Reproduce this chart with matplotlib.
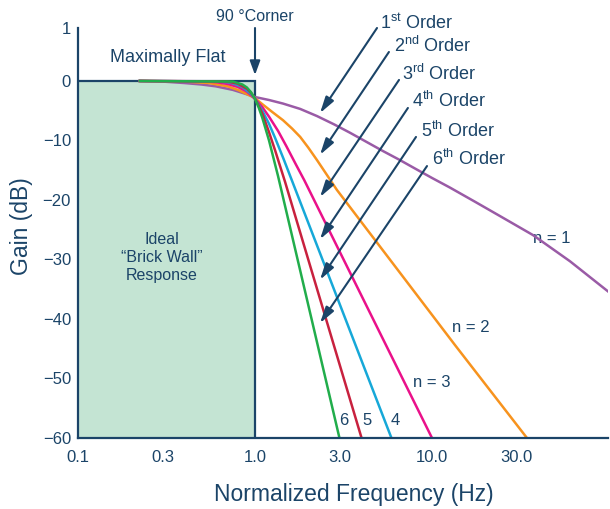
import matplotlib
matplotlib.use("Agg")
import matplotlib.pyplot as plt

plt.rcParams['font.family'] = ['Liberation Sans', 'DejaVu Sans']
plt.rcParams['mathtext.fontset'] = 'custom'
plt.rcParams['mathtext.rm'] = 'Liberation Sans'
plt.rcParams['mathtext.it'] = 'Liberation Sans:italic'
plt.rcParams['mathtext.bf'] = 'Liberation Sans:bold'

# --- data -------------------------------------------------------------
# ideal "brick wall" low-pass response
brick_f = [0.1, 1.0]
brick_db = [0.0, 0.0]

# Butterworth-style low-pass responses, n = 1 ... 6
f_n1 = [0.22, 0.3, 0.4, 0.5, 0.6, 0.75, 0.87, 1.0, 1.2, 1.44, 1.8, 2.24, 2.8,
        3.44, 4.3, 5.3, 6.5, 8.0, 10.0, 12.6, 17.5, 24.2, 37.2, 60.2, 101]
db_n1 = [0, -0.1, -0.35, -0.6, -0.9, -1.5, -2.1, -2.7, -3.2, -3.8, -4.7, -5.9,
         -7.3, -8.7, -10.3, -11.8, -13.2, -14.7, -16.3, -17.9, -20.3, -22.7,
         -25.9, -30.3, -35.6]

f_n2 = [0.22, 0.4, 0.55, 0.7, 0.8, 0.9, 1.0, 1.1, 1.25, 1.44, 1.62, 1.8, 2.0,
        2.24, 2.55, 2.9, 13.5, 34.4]
db_n2 = [0, -0.1, -0.35, -0.9, -1.5, -2.2, -2.9, -3.9, -5.2, -6.6, -8.0, -9.4,
         -11.2, -13.3, -15.8, -18.3, -44.4, -60]

f_n3 = [0.22, 0.5, 0.6, 0.7, 0.8, 0.9, 1.0, 1.1, 1.2, 1.35, 1.5, 1.7, 1.9, 10.0]
db_n3 = [0, -0.05, -0.2, -0.5, -1.0, -1.8, -3.0, -4.4, -6.0, -8.4, -10.9, -14.0,
         -16.7, -60]

f_n4 = [0.22, 0.6, 0.7, 0.75, 0.85, 0.95, 1.0, 1.1, 1.2, 1.3, 1.45, 1.62, 5.9]
db_n4 = [0, -0.1, -0.2, -0.4, -1.0, -2.2, -3.0, -5.0, -7.2, -9.6, -13.1, -16.8,
         -60]

f_n5 = [0.22, 0.7, 0.8, 0.9, 0.95, 1.0, 1.05, 1.1, 1.2, 1.3, 1.48, 4.0]
db_n5 = [0, -0.1, -0.45, -1.3, -2.0, -3.0, -4.2, -5.5, -8.6, -11.7, -17.0, -60]

f_n6 = [0.22, 0.75, 0.85, 0.9, 0.95, 1.0, 1.05, 1.1, 1.2, 1.35, 3.0]
db_n6 = [0, -0.1, -0.6, -1.1, -1.9, -3.0, -4.5, -6.2, -10.0, -16.0, -60]

x_ticks = [0.1, 0.3, 1.0, 3.0, 10.0, 30.0]
x_tick_labels = ['0.1', '0.3', '1.0', '3.0', '10.0', '30.0']
y_ticks = [-60, -50, -40, -30, -20, -10, 0]
y_tick_labels = ['\u221260', '\u221250', '\u221240', '\u221230', '\u221220',
                 '\u221210', '0']
order_labels = ['1$^{\\rm st}$ Order', '2$^{\\rm nd}$ Order', '3$^{\\rm rd}$ Order',
                '4$^{\\rm th}$ Order', '5$^{\\rm th}$ Order', '6$^{\\rm th}$ Order']

# --- styling ----------------------------------------------------------
NAVY = '#1b4468'
FILL = '#c4e4d3'
colors = {1: '#9a5ba6', 2: '#f7931e', 3: '#ea118a', 4: '#16a8d8',
          5: '#c8213e', 6: '#21ad4b'}

fig = plt.figure(figsize=(6.1, 5.09), dpi=100)
ax = fig.add_axes([78 / 610, 71 / 509, 530 / 610, 410 / 509])
ax.set_xscale('log')
Y_TOP = 8.9
ax.set_xlim(0.1, 98.7)
ax.set_ylim(-60, Y_TOP)

# ideal response block
ax.fill_between(brick_f, -60, brick_db, color=FILL, lw=0, zorder=1)
ax.plot([brick_f[0], brick_f[1], brick_f[1]], [brick_db[0], brick_db[1], -60],
        color=NAVY, lw=1.6, zorder=2, solid_joinstyle='miter')

# filter responses
for n, (fv, dv) in zip(range(1, 7), [(f_n1, db_n1), (f_n2, db_n2), (f_n3, db_n3),
                                     (f_n4, db_n4), (f_n5, db_n5), (f_n6, db_n6)]):
    ax.plot(fv, dv, color=colors[n], lw=1.8, zorder=3 + n,
            solid_capstyle='butt', solid_joinstyle='round')

# axes appearance
for side in ('top', 'right'):
    ax.spines[side].set_visible(False)
for side in ('left', 'bottom'):
    ax.spines[side].set_color(NAVY)
    ax.spines[side].set_linewidth(1.6)
    ax.spines[side].set_zorder(12)

ax.set_xticks(x_ticks)
ax.set_xticklabels(x_tick_labels)
ax.xaxis.set_minor_locator(matplotlib.ticker.NullLocator())
ax.set_yticks(y_ticks + [Y_TOP])
ax.set_yticklabels(y_tick_labels + ['1'])
ax.tick_params(axis='both', length=0, labelsize=12, labelcolor=NAVY)
ax.tick_params(axis='x', pad=9)
ax.tick_params(axis='y', pad=5)

ax.set_xlabel('Normalized Frequency (Hz)', fontsize=16.5, color=NAVY)
ax.xaxis.set_label_coords(0.52, -0.138)
ax.xaxis.label.set_va('center')
ax.set_ylabel('Gain (dB)', fontsize=16.5, color=NAVY)
ax.yaxis.set_label_coords(-0.106, 0.517)
ax.yaxis.label.set_va('center')

# annotations
ax.text(0.323, 3.9, 'Maximally Flat', fontsize=13, color=NAVY,
        ha='center', va='center')
ax.text(0.298, -29.6, 'Ideal\n\u201cBrick Wall\u201d\nResponse', fontsize=11.5,
        color=NAVY, ha='center', va='center', linespacing=1.25)
ax.text(1.0, 10.8, '90 \u00b0Corner', fontsize=11.5, color=NAVY,
        ha='center', va='center', clip_on=False)
ax.annotate('', xy=(1.0, 1.0), xytext=(1.0, 8.9),
            arrowprops=dict(arrowstyle='-|>,head_length=0.6,head_width=0.22',
                            color=NAVY, lw=1.5, mutation_scale=14,
                            shrinkA=0, shrinkB=0), annotation_clip=False)

label_pos = [(5.09, 9.75), (6.10, 5.88), (6.77, 1.18), (7.71, -3.36),
             (8.67, -8.40), (10.0, -13.1)]
arrow_start = [(4.89, 8.9), (5.71, 4.87), (6.51, 0.17), (7.31, -4.54),
               (8.12, -9.41), (9.37, -14.3)]
arrow_tip = [(2.33, -5.4), (2.33, -12.4), (2.33, -19.5), (2.33, -26.6),
             (2.33, -33.4), (2.33, -40.7)]
for lab, lp, st, tp in zip(order_labels, label_pos, arrow_start, arrow_tip):
    ax.text(lp[0], lp[1], lab, fontsize=13, color=NAVY, ha='left',
            va='center', clip_on=False, zorder=20)
    ax.annotate('', xy=tp, xytext=st,
                arrowprops=dict(arrowstyle='-|>,head_length=0.7,head_width=0.2',
                                color=NAVY, lw=1.5, mutation_scale=14,
                                shrinkA=0, shrinkB=0),
                annotation_clip=False, zorder=20)

ax.text(37.2, -26.4, 'n = 1', fontsize=12, color=NAVY, ha='left', va='center')
ax.text(12.96, -41.5, 'n = 2', fontsize=12, color=NAVY, ha='left', va='center')
ax.text(7.80, -50.6, 'n = 3', fontsize=12, color=NAVY, ha='left', va='center')
ax.text(3.18, -57.0, '6', fontsize=12, color=NAVY, ha='center', va='center')
ax.text(4.29, -57.0, '5', fontsize=12, color=NAVY, ha='center', va='center')
ax.text(6.17, -57.0, '4', fontsize=12, color=NAVY, ha='center', va='center')

fig.savefig('out.png', dpi=100)
